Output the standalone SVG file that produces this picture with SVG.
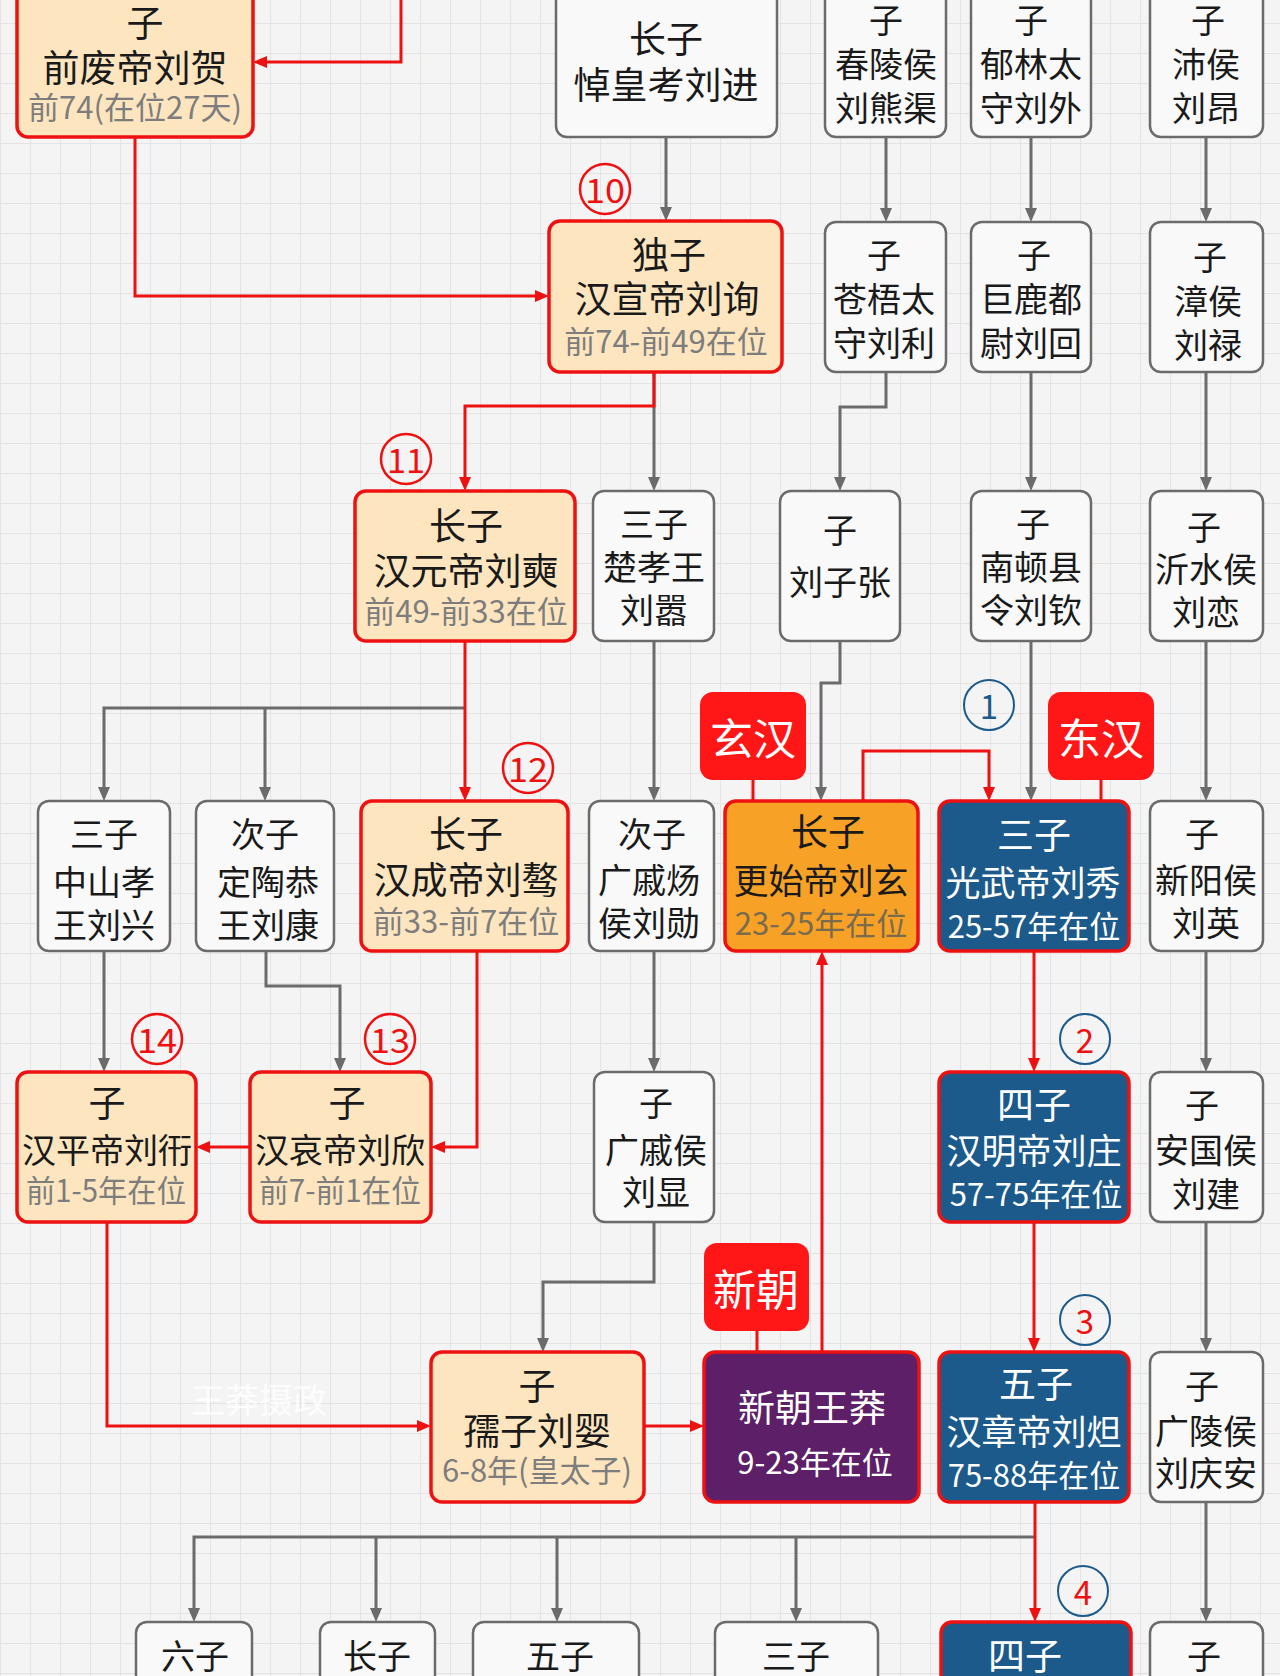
<svg xmlns="http://www.w3.org/2000/svg" width="1280" height="1676" viewBox="0 0 1280 1676">
<defs>
<pattern id="grid" x="0" y="23" width="30" height="30" patternUnits="userSpaceOnUse">
<path d="M0,0.5 H30 M0.5,0 V30" fill="none" stroke="#e4e4e4" stroke-width="1"/>
</pattern>
<marker id="ag" viewBox="0 0 14 12" refX="8" refY="6" markerWidth="14" markerHeight="12" markerUnits="userSpaceOnUse" orient="auto"><path d="M0,0 L14,6 L0,12 z" fill="#6b6b6b"/></marker>
<marker id="ar" viewBox="0 0 14 12" refX="8" refY="6" markerWidth="14" markerHeight="12" markerUnits="userSpaceOnUse" orient="auto"><path d="M0,0 L14,6 L0,12 z" fill="#ee1111"/></marker>
<style>
text{font-family:"Noto Sans CJK SC","Noto Sans",sans-serif;text-anchor:middle;dominant-baseline:central;fill:#1a1a1a}
.n{font-size:37px}
.m{font-size:35px}
.g{font-size:34px}
.s{font-size:31px;fill:#7d7d7d}
.so{font-size:31px;fill:#7a6a4e}
.w{fill:#ffffff}
.ws{font-size:31px;fill:#ffffff}
.lt{font-size:43px;fill:#ffffff}
.cn{font-size:33px;fill:#ee1111}
.cb{font-size:33px;fill:#1d5a8c}
.cream{fill:#fde6bf;stroke:#ee1111;stroke-width:3.5}
.gray{fill:#f9f9f9;stroke:#6b6b6b;stroke-width:2.5}
.orange{fill:#f7a226;stroke:#ee1111;stroke-width:3.5}
.blue{fill:#1c5a8c;stroke:#ee1111;stroke-width:3.5}
.purple{fill:#5c1f68;stroke:#ee1111;stroke-width:3.5}
.lab{fill:#ff1616}
.cr{fill:none;stroke:#ee1111;stroke-width:2.5}
.cbl{fill:none;stroke:#1d5a8c;stroke-width:2}
.eg{fill:none;stroke:#6b6b6b;stroke-width:3;marker-end:url(#ag)}
.er{fill:none;stroke:#ee1111;stroke-width:3;marker-end:url(#ar)}
.ern{fill:none;stroke:#ee1111;stroke-width:3}
</style>
</defs>
<rect width="1280" height="1676" fill="#f4f4f4"/>
<rect width="1280" height="1676" fill="url(#grid)"/>
<text x="259" y="1398" style="font-size:34px;fill:#ffffff;opacity:0.85">王莽摄政</text>

<g id="connectors">
<path class="eg" d="M666,137 V215"/>
<path class="eg" d="M886,137 V216"/>
<path class="eg" d="M1031,137 V216"/>
<path class="eg" d="M1206,137 V216"/>
<path class="eg" d="M654,372 V485"/>
<path class="eg" d="M886,372 V407 H840 V485"/>
<path class="eg" d="M1031,372 V485"/>
<path class="eg" d="M1206,372 V485"/>
<path class="eg" d="M465,708 H104 V795"/>
<path class="eg" d="M265,708 V795"/>
<path class="eg" d="M654,641 V795"/>
<path class="eg" d="M840,641 V683 H821 V795"/>
<path class="eg" d="M1031,641 V795"/>
<path class="eg" d="M1206,641 V795"/>
<path class="eg" d="M104,951 V1066"/>
<path class="eg" d="M266,951 V986 H340 V1066"/>
<path class="eg" d="M654,951 V1066"/>
<path class="eg" d="M1206,951 V1066"/>
<path class="eg" d="M654,1222 V1282 H543 V1346"/>
<path class="eg" d="M1206,1222 V1346"/>
<path class="eg" d="M1035,1537 H194 V1616"/>
<path class="eg" d="M376,1537 V1616"/>
<path class="eg" d="M557,1537 V1616"/>
<path class="eg" d="M796,1537 V1616"/>
<path class="eg" d="M1206,1502 V1616"/>
<path class="er" d="M401,-2 V62 H259"/>
<path class="er" d="M135,137 V296 H543"/>
<path class="er" d="M654,372 V406 H465 V485"/>
<path class="er" d="M465,641 V795"/>
<path class="er" d="M863,801 V751 H989 V795"/>
<path class="er" d="M477,951 V1147 H437"/>
<path class="er" d="M250,1147 H202"/>
<path class="er" d="M1034,951 V1066"/>
<path class="er" d="M822,1352 V957"/>
<path class="er" d="M107,1222 V1426 H425"/>
<path class="er" d="M644,1426 H698"/>
<path class="er" d="M1034,1222 V1346"/>
<path class="er" d="M1035,1502 V1616"/>
<path class="ern" d="M753,780 V801"/>
<path class="ern" d="M1101,780 V801"/>
<path class="ern" d="M757,1331 V1352"/>
</g>

<g id="n-liuhe"><rect class="cream" x="17" y="-16" width="236" height="153" rx="11"/>
<text class="n" x="145" y="21">子</text><text class="n" x="135" y="66">前废帝刘贺</text><text class="s" x="135" y="105">前74(在位27天)</text></g>
<g id="n-liujin"><rect class="gray" x="556" y="-16" width="221" height="153" rx="11"/>
<text class="n" x="666" y="37">长子</text><text class="n" x="666" y="83">悼皇考刘进</text></g>
<g id="n-xiongqu"><rect class="gray" x="825" y="-16" width="121" height="153" rx="11"/>
<text class="g" x="886" y="18">子</text><text class="g" x="886" y="62">春陵侯</text><text class="g" x="886" y="106">刘熊渠</text></g>
<g id="n-liuwai"><rect class="gray" x="971" y="-16" width="120" height="153" rx="11"/>
<text class="g" x="1031" y="18">子</text><text class="g" x="1031" y="62">郁林太</text><text class="g" x="1031" y="106">守刘外</text></g>
<g id="n-liuang"><rect class="gray" x="1150" y="-16" width="113" height="153" rx="11"/>
<text class="g" x="1208" y="18">子</text><text class="g" x="1206" y="62">沛侯</text><text class="g" x="1206" y="106">刘昂</text></g>

<g id="n-xuandi"><rect class="cream" x="549" y="221" width="233" height="151" rx="11"/>
<text class="n" x="669" y="253">独子</text><text class="n" x="667" y="297">汉宣帝刘询</text><text class="s" x="666" y="339">前74-前49在位</text></g>
<g id="n-liuli"><rect class="gray" x="825" y="222" width="121" height="150" rx="11"/>
<text class="g" x="884" y="253">子</text><text class="g" x="884" y="297">苍梧太</text><text class="g" x="884" y="341">守刘利</text></g>
<g id="n-liuhui"><rect class="gray" x="971" y="222" width="120" height="150" rx="11"/>
<text class="g" x="1034" y="253">子</text><text class="g" x="1031" y="297">巨鹿都</text><text class="g" x="1031" y="341">尉刘回</text></g>
<g id="n-liulu"><rect class="gray" x="1150" y="222" width="113" height="150" rx="11"/>
<text class="g" x="1210" y="255">子</text><text class="g" x="1208" y="299">漳侯</text><text class="g" x="1208" y="343">刘禄</text></g>

<g id="n-yuandi"><rect class="cream" x="355" y="491" width="220" height="150" rx="11"/>
<text class="n" x="466" y="524">长子</text><text class="n" x="466" y="569">汉元帝刘奭</text><text class="s" x="466" y="609">前49-前33在位</text></g>
<g id="n-liuxiao"><rect class="gray" x="593" y="491" width="121" height="150" rx="11"/>
<text class="g" x="654" y="522">三子</text><text class="g" x="654" y="565">楚孝王</text><text class="g" x="654" y="608">刘嚣</text></g>
<g id="n-liuzizhang"><rect class="gray" x="780" y="491" width="120" height="150" rx="11"/>
<text class="g" x="840" y="528">子</text><text class="g" x="840" y="580">刘子张</text></g>
<g id="n-liuqin"><rect class="gray" x="971" y="491" width="120" height="150" rx="11"/>
<text class="g" x="1033" y="522">子</text><text class="g" x="1031" y="565">南顿县</text><text class="g" x="1031" y="608">令刘钦</text></g>
<g id="n-liulian"><rect class="gray" x="1150" y="491" width="113" height="150" rx="11"/>
<text class="g" x="1204" y="525">子</text><text class="g" x="1206" y="567">沂水侯</text><text class="g" x="1206" y="610">刘恋</text></g>

<g id="n-liuxing"><rect class="gray" x="38" y="801" width="132" height="150" rx="11"/>
<text class="g" x="104" y="832">三子</text><text class="g" x="104" y="880">中山孝</text><text class="g" x="104" y="923">王刘兴</text></g>
<g id="n-liukang"><rect class="gray" x="196" y="801" width="138" height="150" rx="11"/>
<text class="g" x="265" y="832">次子</text><text class="g" x="268" y="880">定陶恭</text><text class="g" x="268" y="923">王刘康</text></g>
<g id="n-chengdi"><rect class="cream" x="361" y="801" width="207" height="150" rx="11"/>
<text class="n" x="466" y="832">长子</text><text class="n" x="466" y="878">汉成帝刘骜</text><text class="s" x="466" y="919">前33-前7在位</text></g>
<g id="n-liuxun"><rect class="gray" x="589" y="801" width="125" height="150" rx="11"/>
<text class="g" x="652" y="832">次子</text><text class="g" x="649" y="878">广戚炀</text><text class="g" x="649" y="921">侯刘勋</text></g>
<g id="n-gengshi"><rect class="orange" x="725" y="801" width="193" height="150" rx="11"/>
<text class="n" x="828" y="830">长子</text><text class="m" x="821" y="878">更始帝刘玄</text><text class="so" x="821" y="921">23-25年在位</text></g>
<g id="n-guangwu"><rect class="blue" x="939" y="801" width="190" height="150" rx="11"/>
<text class="n w" x="1034" y="833">三子</text><text class="m w" x="1033" y="880">光武帝刘秀</text><text class="ws" x="1034" y="924">25-57年在位</text></g>
<g id="n-liuying"><rect class="gray" x="1150" y="801" width="113" height="150" rx="11"/>
<text class="g" x="1202" y="832">子</text><text class="g" x="1206" y="878">新阳侯</text><text class="g" x="1206" y="921">刘英</text></g>

<g id="n-pingdi"><rect class="cream" x="17" y="1072" width="179" height="150" rx="11"/>
<text class="n" x="107" y="1101">子</text><text class="g" x="107" y="1148">汉平帝刘衎</text><text class="s" x="106" y="1188" textLength="160" lengthAdjust="spacingAndGlyphs">前1-5年在位</text></g>
<g id="n-aidi"><rect class="cream" x="250" y="1072" width="181" height="150" rx="11"/>
<text class="n" x="347" y="1101">子</text><text class="g" x="340" y="1148">汉哀帝刘欣</text><text class="s" x="340" y="1188" textLength="162" lengthAdjust="spacingAndGlyphs">前7-前1在位</text></g>
<g id="n-liuxian"><rect class="gray" x="594" y="1072" width="120" height="150" rx="11"/>
<text class="g" x="656" y="1101">子</text><text class="g" x="656" y="1148">广戚侯</text><text class="g" x="656" y="1190">刘显</text></g>
<g id="n-mingdi"><rect class="blue" x="939" y="1072" width="190" height="150" rx="11"/>
<text class="n w" x="1034" y="1103">四子</text><text class="m w" x="1034" y="1148">汉明帝刘庄</text><text class="ws" x="1036" y="1192">57-75年在位</text></g>
<g id="n-liujian"><rect class="gray" x="1150" y="1072" width="113" height="150" rx="11"/>
<text class="g" x="1202" y="1103">子</text><text class="g" x="1206" y="1148">安国侯</text><text class="g" x="1206" y="1192">刘建</text></g>

<g id="n-ruzi"><rect class="cream" x="431" y="1352" width="213" height="150" rx="11"/>
<text class="n" x="537" y="1384">子</text><text class="n" x="537" y="1429">孺子刘婴</text><text class="s" x="537" y="1468">6-8年(皇太子)</text></g>
<g id="n-wangmang"><rect class="purple" x="704" y="1352" width="215" height="150" rx="11"/>
<text class="n w" x="812" y="1406">新朝王莽</text><text class="ws" x="815" y="1460">9-23年在位</text></g>
<g id="n-zhangdi"><rect class="blue" x="939" y="1352" width="190" height="150" rx="11"/>
<text class="n w" x="1036" y="1382">五子</text><text class="m w" x="1034" y="1429">汉章帝刘炟</text><text class="ws" x="1034" y="1473">75-88年在位</text></g>
<g id="n-liuqingan"><rect class="gray" x="1150" y="1352" width="113" height="150" rx="11"/>
<text class="g" x="1202" y="1384">子</text><text class="g" x="1206" y="1429">广陵侯</text><text class="g" x="1206" y="1471">刘庆安</text></g>

<g id="n-r6-1"><rect class="gray" x="136" y="1622" width="116" height="80" rx="11"/><text class="g" x="195" y="1654">六子</text></g>
<g id="n-r6-2"><rect class="gray" x="320" y="1622" width="115" height="80" rx="11"/><text class="g" x="377" y="1654">长子</text></g>
<g id="n-r6-3"><rect class="gray" x="473" y="1622" width="166" height="80" rx="11"/><text class="g" x="560" y="1654">五子</text></g>
<g id="n-r6-4"><rect class="gray" x="715" y="1622" width="163" height="80" rx="11"/><text class="g" x="796" y="1654">三子</text></g>
<g id="n-r6-5"><rect class="blue" x="941" y="1622" width="190" height="80" rx="11"/><text class="n w" x="1025" y="1654">四子</text></g>
<g id="n-r6-6"><rect class="gray" x="1150" y="1622" width="113" height="80" rx="11"/><text class="g" x="1204" y="1654">子</text></g>

<g id="label-xuanhan"><rect class="lab" x="700" y="692" width="106" height="88" rx="13"/><text class="lt" x="753" y="736">玄汉</text></g>
<g id="label-donghan"><rect class="lab" x="1048" y="692" width="106" height="88" rx="13"/><text class="lt" x="1101" y="736">东汉</text></g>
<g id="label-xinchao"><rect class="lab" x="704" y="1243" width="105" height="88" rx="13"/><text class="lt" x="756" y="1287">新朝</text></g>

<g id="badges">
<circle class="cr" cx="605" cy="189" r="25"/><text class="cn" x="605" y="189" textLength="40" lengthAdjust="spacingAndGlyphs">10</text>
<circle class="cr" cx="406" cy="459" r="25"/><text class="cn" x="406" y="459" textLength="38" lengthAdjust="spacingAndGlyphs">11</text>
<circle class="cr" cx="528" cy="768" r="25"/><text class="cn" x="528" y="768" textLength="40" lengthAdjust="spacingAndGlyphs">12</text>
<circle class="cr" cx="390" cy="1039" r="25"/><text class="cn" x="390" y="1039" textLength="40" lengthAdjust="spacingAndGlyphs">13</text>
<circle class="cr" cx="157" cy="1039" r="25"/><text class="cn" x="157" y="1039" textLength="40" lengthAdjust="spacingAndGlyphs">14</text>
<circle class="cbl" cx="989" cy="705" r="25"/><text class="cb" x="989" y="705">1</text>
<circle class="cbl" cx="1085" cy="1039" r="25"/><text class="cn" x="1085" y="1039">2</text>
<circle class="cbl" cx="1085" cy="1320" r="25"/><text class="cn" x="1085" y="1320">3</text>
<circle class="cbl" cx="1083" cy="1591" r="25"/><text class="cn" x="1083" y="1591">4</text>
</g>
</svg>
